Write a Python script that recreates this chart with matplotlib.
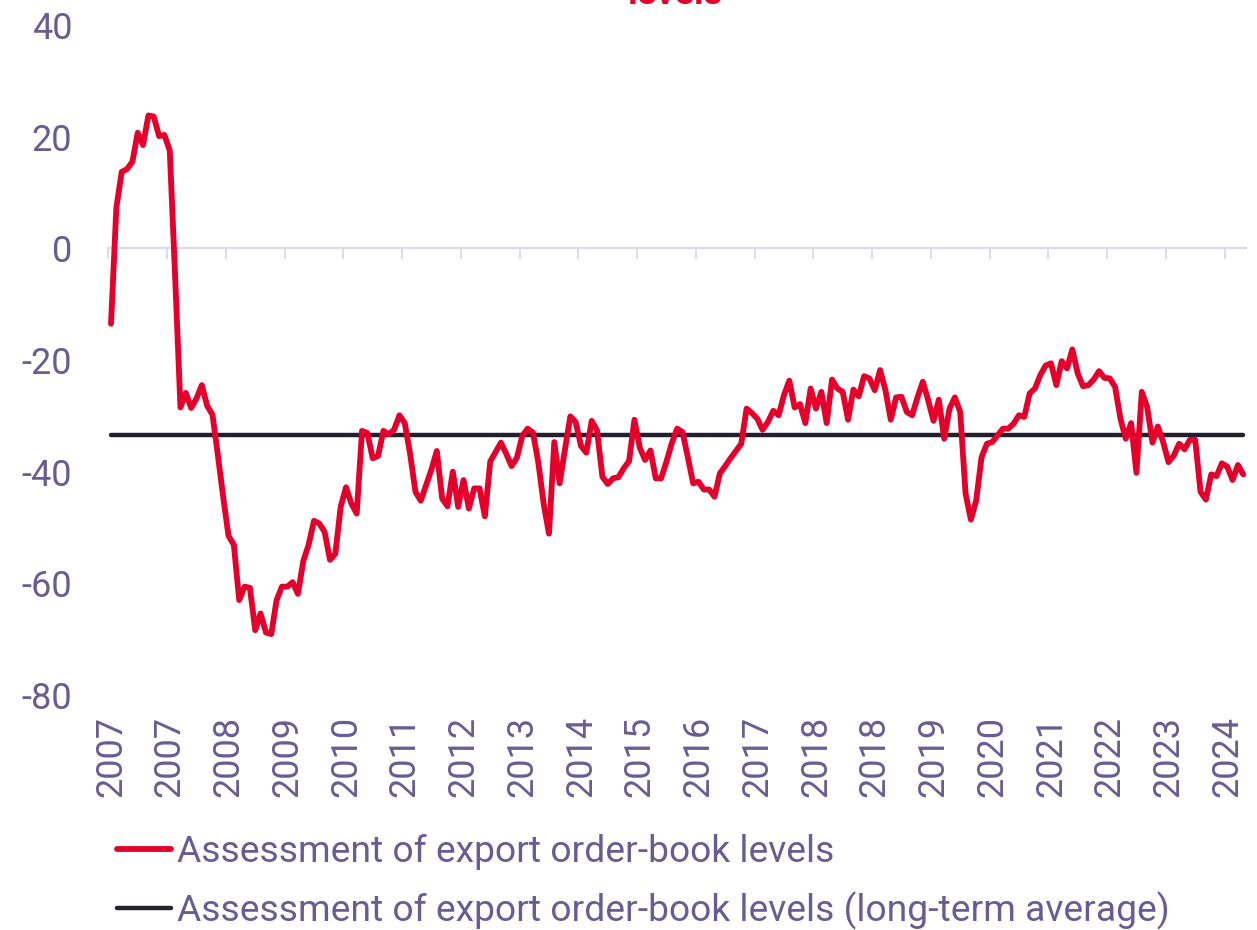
import matplotlib
matplotlib.use("Agg")
import matplotlib.pyplot as plt
import numpy as np

plt.rcParams['font.family'] = ['Roboto', 'DejaVu Sans']
plt.rcParams['axes.unicode_minus'] = False

# ---- data (monthly, Jan 2007 - Sep 2024) ----
order_book = [
    -13.5, 7.3, 13.7, 14.2, 15.5, 20.7, 18.5, 23.8, 23.6, 20.1, 20.3, 17.5,
    -5.0, -28.5, -25.9, -28.6, -26.9, -24.5, -28.2, -29.8, -37.0, -44.5, -51.5, -53.1,
    -63.0, -60.6, -60.8, -68.4, -65.4, -68.8, -69.1, -63.0, -60.6, -60.6, -59.8, -61.9,
    -56.0, -53.1, -48.8, -49.3, -50.8, -55.8, -54.7, -46.3, -42.8, -45.7, -47.5, -32.7,
    -33.1, -37.6, -37.2, -32.7, -33.3, -32.5, -29.9, -31.3, -36.8, -43.6, -45.2, -42.4,
    -39.6, -36.3, -44.8, -46.2, -40.0, -46.3, -41.5, -46.6, -43.0, -43.0, -48.0, -38.2,
    -36.5, -34.8, -36.8, -39.0, -37.5, -33.6, -32.3, -33.0, -38.3, -45.7, -51.1, -34.7,
    -42.1, -36.0, -30.1, -31.1, -35.4, -36.6, -30.9, -32.6, -40.9, -42.2, -41.2, -41.0,
    -39.4, -38.1, -30.7, -35.7, -37.9, -36.2, -41.2, -41.2, -38.2, -34.9, -32.3, -32.9,
    -37.4, -42.1, -41.8, -43.2, -43.2, -44.5, -40.3, -39.0, -37.6, -36.3, -35.0, -28.7,
    -29.5, -30.5, -32.5, -31.1, -29.1, -29.9, -26.3, -23.7, -28.5, -27.9, -31.3, -25.1,
    -28.7, -25.7, -31.3, -23.5, -25.1, -25.7, -30.7, -25.3, -26.5, -22.9, -23.3, -25.4,
    -21.8, -25.4, -30.7, -26.7, -26.6, -29.3, -29.9, -26.7, -23.9, -27.2, -30.9, -27.1,
    -34.1, -28.7, -26.7, -29.3, -43.9, -48.6, -45.1, -37.4, -35.0, -34.7, -33.5, -32.3,
    -32.3, -31.4, -29.9, -30.2, -26.0, -25.1, -22.7, -21.0, -20.6, -24.5, -20.2, -21.5,
    -18.1, -22.4, -24.7, -24.5, -23.5, -22.0, -23.2, -23.3, -24.8, -30.5, -34.1, -31.3,
    -40.2, -25.7, -28.4, -34.8, -31.9, -34.7, -38.3, -37.1, -35.0, -36.0, -34.3, -34.3,
    -43.6, -45.0, -40.5, -40.8, -38.5, -39.1, -41.5, -38.8, -40.5,
]
long_term_average = -33.4
tick_labels = ['2007', '2007', '2008', '2009', '2010', '2011', '2012', '2013', '2014',
               '2015', '2016', '2017', '2018', '2018', '2019', '2020', '2021', '2022',
               '2023', '2024']
label_step = 11  # one label every 11 months
series_names = ['Assessment of export order-book levels',
                'Assessment of export order-book levels (long-term average)']
title = 'Assessment of export order-book\nlevels'

RED = '#e4002b'
DARK = '#231f2e'
PURPLE = '#685c93'
GRID = '#dcdbe9'

x = np.arange(len(order_book))
avg = np.full(len(order_book), long_term_average)

fig = plt.figure(figsize=(12.57, 9.30), dpi=100)
ax = fig.add_axes([0.0862, 0.2527, 0.905, 0.7204])

ax.plot(x, avg, color=DARK, lw=3.2, solid_capstyle='round', label=series_names[1], zorder=3)
ax.plot(x, order_book, color=RED, lw=4.2, solid_capstyle='round', solid_joinstyle='round',
        label=series_names[0], zorder=4)

ax.set_xlim(-0.5, len(order_book) - 0.5)
ax.set_ylim(-80, 40)
ax.set_yticks([40, 20, 0, -20, -40, -60, -80])
ax.tick_params(axis='y', length=0, pad=26, labelsize=26, labelcolor=PURPLE)

for s in ['top', 'right', 'left']:
    ax.spines[s].set_visible(False)
ax.spines['bottom'].set_position(('data', 0))
ax.spines['bottom'].set_color(GRID)
ax.spines['bottom'].set_linewidth(1.6)
ax.spines['bottom'].set_zorder(1)

tick_pos = np.arange(len(tick_labels)) * label_step
ax.set_xticks(tick_pos - 0.5)
ax.tick_params(axis='x', direction='out', length=8, width=1.5, color=GRID, labelbottom=False)

sec = ax.secondary_xaxis('bottom')
sec.set_xticks(tick_pos)
sec.set_xticklabels(tick_labels, rotation=90)
sec.tick_params(axis='x', length=0, pad=15, labelsize=26, labelcolor=PURPLE)
sec.spines['bottom'].set_visible(False)

fig.text(675 / 1257, 1 - 4 / 930, title, ha='center', va='baseline', color=RED,
         fontsize=26, fontweight='bold', linespacing=1.2)

handles, labels = ax.get_legend_handles_labels()
leg = fig.legend([handles[1], handles[0]], [labels[1], labels[0]],
                 loc='upper left', bbox_to_anchor=(117 / 1257, 1 - 834 / 930),
                 frameon=False, fontsize=26.8, handlelength=1.45, handletextpad=0.15,
                 labelspacing=0.58, borderpad=0, borderaxespad=0)
for t in leg.get_texts():
    t.set_color(PURPLE)

fig.savefig('out.png', dpi=100)
